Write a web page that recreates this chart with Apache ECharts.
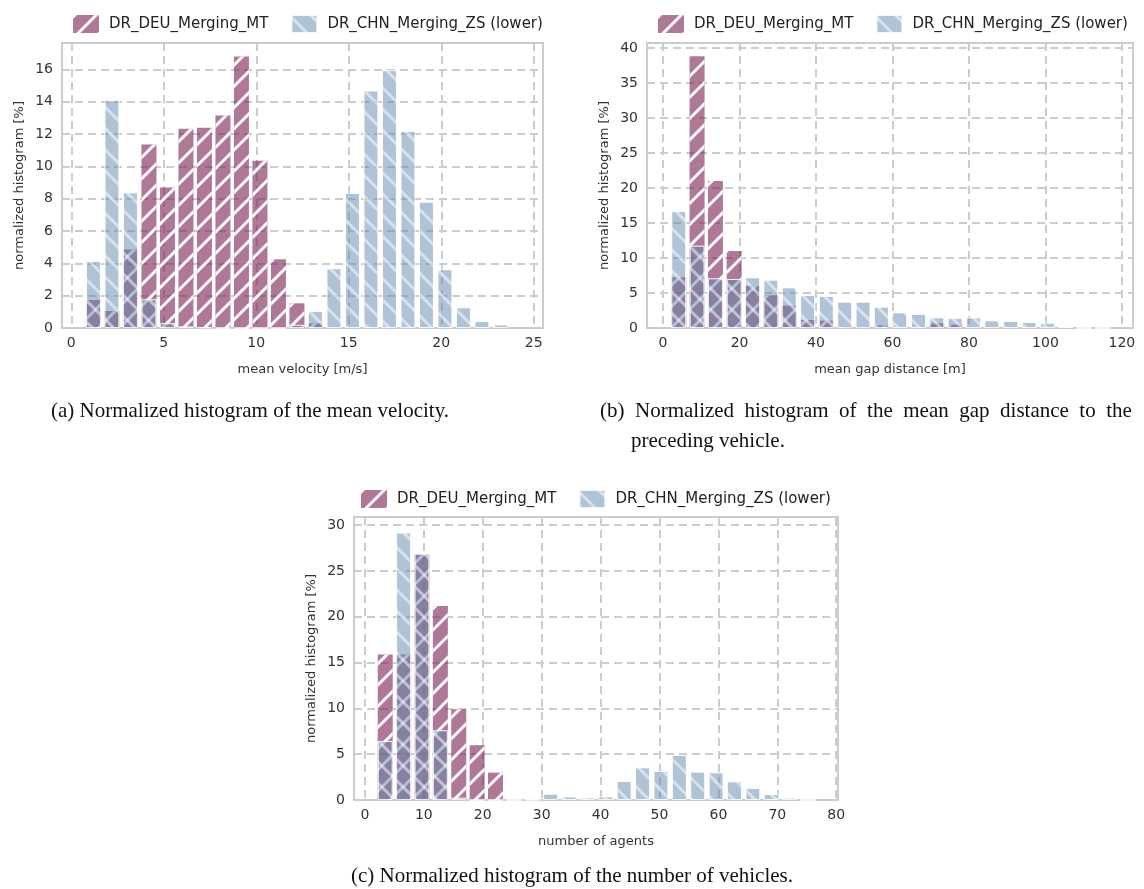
<!DOCTYPE html>
<html>
<head>
<meta charset="utf-8">
<script src="https://cdn.jsdelivr.net/npm/echarts@6/dist/echarts.min.js"></script>
<style>
  html, body { margin: 0; padding: 0; background: #fff; }
  #main { width: 1144px; height: 889px; }
</style>
</head>
<body>
<div id="main"></div>
<script>
const seriesNames = ['DR_DEU_Merging_MT', 'DR_CHN_Merging_ZS (lower)'];

// (a) mean velocity [m/s]
const velBins = [1.2, 2.2, 3.2, 4.2, 5.2, 6.2, 7.2, 8.2, 9.2, 10.2, 11.2, 12.2, 13.2, 14.2, 15.2, 16.2, 17.2, 18.2, 19.2, 20.2, 21.2, 22.2, 23.2];
const velDEU = [1.73, 1.05, 4.86, 11.36, 8.69, 12.33, 12.4, 13.16, 16.8, 10.35, 4.26, 1.53, 0.28, 0, 0, 0, 0, 0, 0, 0, 0, 0, 0];
const velCHN = [4.15, 14.1, 8.4, 1.78, 0.3, 0.1, 0.05, 0, 0, 0, 0, 0.2, 1.05, 3.7, 8.36, 14.7, 15.96, 12.19, 7.82, 3.64, 1.28, 0.43, 0.22];
const velTicks = [0, 5, 10, 15, 20, 25];

// (b) mean gap distance [m]
const gapBins = [4.1, 8.9, 13.7, 18.6, 23.4, 28.2, 33.0, 37.8, 42.7, 47.5, 52.3, 57.1, 61.9, 66.8, 71.6, 76.4, 81.2, 86.0, 90.9, 95.7, 100.5, 105.3, 110.1, 115.0];
const gapDEU = [7.24, 38.8, 21.0, 11.0, 6.0, 4.67, 3.19, 1.14, 1.05, 0.1, 0.1, 0.35, 0, 0, 0.67, 0.48, 0, 0, 0, 0, 0, 0, 0, 0];
const gapCHN = [16.7, 11.76, 7.1, 7.0, 7.24, 6.9, 5.81, 4.71, 4.57, 3.76, 3.76, 3.05, 2.24, 2.0, 1.52, 1.43, 1.52, 1.1, 1.0, 0.86, 0.76, 0.2, 0, 0];
const gapTicks = [0, 20, 40, 60, 80, 100, 120];

// (c) number of agents
const agentBins = [3.45, 6.57, 9.69, 12.81, 15.93, 19.05, 22.17, 25.29, 28.41, 31.53, 34.65, 37.77, 40.89, 44.01, 47.13, 50.25, 53.37, 56.49, 59.61, 62.73, 65.85, 68.97, 72.09, 75.21];
const agentDEU = [15.9, 15.9, 26.8, 21.17, 9.92, 5.98, 2.99, 0, 0, 0, 0, 0, 0, 0, 0, 0, 0, 0, 0, 0, 0, 0, 0, 0];
const agentCHN = [6.45, 29.2, 26.9, 7.62, 0.25, 0, 0, 0, 0.05, 0.69, 0.39, 0.28, 0.39, 2.07, 3.57, 3.17, 4.92, 3.1, 3.02, 2.04, 1.31, 0.65, 0.25, 0];
const agentTicks = [0, 10, 20, 30, 40, 50, 60, 70, 80];

const xNames = ['mean velocity [m/s]', 'mean gap distance [m]', 'number of agents'];
const captions = [
    '(a) Normalized histogram of the mean velocity.',
    '(b)  Normalized  histogram  of  the  mean  gap  distance  to  the',
    'preceding vehicle.',
    '(c) Normalized histogram of the number of vehicles.'
];

const chart = echarts.init(document.getElementById('main'));

const gridColor = '#cccccc';
const sans = 'DejaVu Sans';
const serif = 'Liberation Serif';

const pairs = (bins, vals) => bins.map((b, i) => [b, vals[i]]);

const tickFmt = step => v => (Math.abs(v / step - Math.round(v / step)) < 1e-6 ? String(Math.round(v)) : '');

const makeX = (idx, min, max, ticks) => ({
    type: 'value',
    gridIndex: idx,
    min: min,
    max: max,
    name: xNames[idx],
    nameLocation: 'middle',
    nameGap: 35,
    nameTextStyle: { fontFamily: sans, fontSize: 13, color: '#333' },
    axisLine: { show: false },
    axisTick: { show: false, customValues: ticks },
    axisLabel: { fontFamily: sans, fontSize: 14, color: '#333', margin: 8, customValues: ticks },
    splitLine: { show: true, customValues: ticks, lineStyle: { color: gridColor, width: 2, type: [8, 5] } }
});

const makeY = (idx, max, step) => ({
    type: 'value',
    gridIndex: idx,
    min: 0,
    max: max,
    interval: step,
    name: 'normalized histogram [%]',
    nameLocation: 'middle',
    nameGap: 36,
    nameTextStyle: { fontFamily: sans, fontSize: 13, color: '#333' },
    axisLine: { show: false },
    axisTick: { show: false },
    axisLabel: { fontFamily: sans, fontSize: 14, color: '#333', margin: 9, formatter: tickFmt(step) },
    splitLine: { show: true, lineStyle: { color: gridColor, width: 2, type: [8, 5] } }
});

const deuStyle = {
    color: 'rgba(123, 30, 83, 0.6)',
    decal: {
        symbol: 'rect',
        symbolSize: 1,
        dashArrayX: [1, 0],
        dashArrayY: [2.5, 12],
        rotation: -Math.PI / 4,
        color: 'rgba(255, 255, 255, 0.95)'
    }
};
const chnStyle = {
    color: 'rgba(95, 135, 173, 0.5)',
    borderColor: 'rgba(255, 255, 255, 0.6)',
    borderWidth: 1,
    decal: {
        symbol: 'rect',
        symbolSize: 1,
        dashArrayX: [1, 0],
        dashArrayY: [2.5, 12],
        rotation: Math.PI / 4,
        color: 'rgba(255, 255, 255, 0.5)'
    }
};

const makeBars = (idx, bins, deu, chn) => [
    {
        name: seriesNames[0],
        type: 'bar',
        xAxisIndex: idx,
        yAxisIndex: idx,
        barWidth: 15,
        barGap: '-100%',
        itemStyle: deuStyle,
        emphasis: { disabled: true },
        data: pairs(bins, deu)
    },
    {
        name: seriesNames[1],
        type: 'bar',
        xAxisIndex: idx,
        yAxisIndex: idx,
        barWidth: 15,
        barGap: '-100%',
        itemStyle: chnStyle,
        emphasis: { disabled: true },
        data: pairs(bins, chn)
    }
];

const makeLegend = (left, top) => ({
    left: left,
    top: top,
    itemWidth: 26,
    itemHeight: 18,
    itemGap: 22,
    icon: 'rect',
    selectedMode: false,
    textStyle: { fontFamily: sans, fontSize: 15, color: '#222', padding: [0, 0, 0, 5] },
    data: seriesNames
});

const captionStyle = { fontFamily: serif, fontSize: 21, fontWeight: 'normal', color: '#111' };

const option = {
    backgroundColor: '#ffffff',
    animation: false,
    title: [
        { text: captions[0], left: 46, top: 396, textStyle: captionStyle },
        { text: captions[1], left: 595, top: 396, textStyle: captionStyle },
        { text: captions[2], left: 626, top: 426, textStyle: captionStyle },
        { text: captions[3], left: 346, top: 861, textStyle: captionStyle }
    ],
    legend: [makeLegend(68, 9), makeLegend(653, 9), makeLegend(356, 484)],
    grid: [
        { left: 62, top: 43, width: 481, height: 285, show: true, borderColor: gridColor, borderWidth: 2 },
        { left: 647, top: 43, width: 486, height: 285, show: true, borderColor: gridColor, borderWidth: 2 },
        { left: 354, top: 517, width: 484, height: 283, show: true, borderColor: gridColor, borderWidth: 2 }
    ],
    xAxis: [
        makeX(0, -0.5, 25.5, velTicks),
        makeX(1, -4.2, 122.9, gapTicks),
        makeX(2, -1.85, 80.3, agentTicks)
    ],
    yAxis: [
        makeY(0, 17.64, 2),
        makeY(1, 40.7, 5),
        makeY(2, 30.9, 5)
    ],
    series: [].concat(
        makeBars(0, velBins, velDEU, velCHN),
        makeBars(1, gapBins, gapDEU, gapCHN),
        makeBars(2, agentBins, agentDEU, agentCHN)
    )
};

chart.setOption(option);

window.addEventListener('resize', function () {
    chart.resize();
});
</script>
</body>
</html>
